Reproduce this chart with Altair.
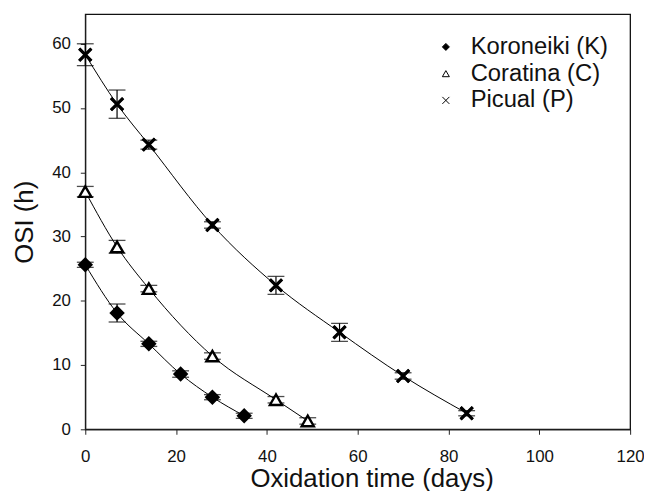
import altair as alt
import pandas as pd

series_names = ["Koroneiki (K)", "Coratina (C)", "Picual (P)"]

days_K = [0, 7, 14, 21, 28, 35]
osi_K = [25.6, 18.1, 13.3, 8.6, 5.0, 2.1]
err_K = [0.4, 1.4, 0.4, 0.5, 0.4, 0.4]

days_C = [0, 7, 14, 28, 42, 49]
osi_C = [37.0, 28.4, 21.9, 11.4, 4.6, 1.3]
err_C = [0.8, 1.0, 0.5, 0.5, 0.5, 0.5]

days_P = [0, 7, 14, 28, 42, 56, 70, 84]
osi_P = [58.3, 50.6, 44.3, 31.8, 22.4, 15.1, 8.3, 2.5]
err_P = [1.7, 2.2, 0.7, 0.5, 1.4, 1.4, 0.5, 0.4]

x_ticks = [0, 20, 40, 60, 80, 100, 120]
y_ticks = [0, 10, 20, 30, 40, 50, 60]

rows = []
for name, d, o, e in zip(series_names, [days_K, days_C, days_P],
                         [osi_K, osi_C, osi_P], [err_K, err_C, err_P]):
    for xv, yv, ev in zip(d, o, e):
        rows.append(dict(series=name, day=xv, osi=yv, lo=yv - ev, hi=yv + ev))
df = pd.DataFrame(rows)

FONT = "Liberation Sans"
xpath = "M-1,-1L1,1M-1,1L1,-1"

x_enc = alt.X(
    "day:Q",
    scale=alt.Scale(domain=[0, 120], nice=False, zero=False),
    axis=alt.Axis(
        title="Oxidation time (days)", values=x_ticks, grid=False,
        labelFontSize=17, titleFontSize=26, labelFont=FONT, titleFont=FONT,
        titleFontWeight="normal", tickSize=5, labelPadding=14,
        titlePadding=2, labelFlush=False, titleX=289,
        domainColor="#222", tickColor="#222", labelColor="#111", titleColor="#111",
    ),
)
y_scale = alt.Scale(domain=[0, 64.6], nice=False, zero=False)
y_enc = alt.Y(
    "osi:Q",
    scale=y_scale,
    axis=alt.Axis(
        title="OSI (h)", values=y_ticks, grid=False,
        labelFontSize=17, titleFontSize=26, labelFont=FONT, titleFont=FONT,
        titleFontWeight="normal", tickSize=5, labelPadding=10,
        titlePadding=14, labelFlush=False,
        domainColor="#222", tickColor="#222", labelColor="#111", titleColor="#111",
    ),
)

base = alt.Chart(df)

lines = base.mark_line(color="black", strokeWidth=1, interpolate="monotone").encode(
    x=x_enc, y=y_enc, detail="series:N"
)

err_rules = base.mark_rule(color="black", strokeWidth=1.2).encode(
    x="day:Q", y=alt.Y("lo:Q", scale=y_scale), y2="hi:Q"
)
caps_lo = base.mark_tick(color="black", orient="horizontal", size=17, thickness=1.3).encode(
    x="day:Q", y=alt.Y("lo:Q", scale=y_scale)
)
caps_hi = base.mark_tick(color="black", orient="horizontal", size=17, thickness=1.3).encode(
    x="day:Q", y=alt.Y("hi:Q", scale=y_scale)
)

leg = alt.Legend(
    title=None, orient="none", legendX=352, legendY=21,
    labelFontSize=24, labelFont=FONT, labelColor="#111",
    symbolSize=50, symbolStrokeWidth=1,
    labelOffset=13, rowPadding=3,
)

points = base.mark_point(strokeWidth=2.4, opacity=1).encode(
    x="day:Q",
    y=alt.Y("osi:Q", scale=y_scale),
    shape=alt.Shape(
        "series:N",
        scale=alt.Scale(domain=series_names, range=["diamond", "triangle-up", xpath]),
        legend=leg,
    ),
    fill=alt.Fill(
        "series:N",
        scale=alt.Scale(domain=series_names, range=["black", "white", "transparent"]),
        legend=leg,
    ),
    stroke=alt.Stroke(
        "series:N",
        scale=alt.Scale(domain=series_names, range=["black", "black", "black"]),
        legend=leg,
    ),
    size=alt.value(150),
)

picual_bold = base.transform_filter(
    alt.datum.series == series_names[2]
).mark_point(strokeWidth=3.2, filled=False, color="black", opacity=1).encode(
    x="day:Q",
    y=alt.Y("osi:Q", scale=y_scale),
    shape=alt.value(xpath),
    size=alt.value(150),
)

chart = (
    alt.layer(lines, err_rules, caps_lo, caps_hi, points, picual_bold)
    .properties(
        width=550, height=419,
        autosize=alt.AutoSizeParams(type="none"),
        padding={"left": 78, "top": 4, "right": 14, "bottom": 60},
        background="white",
    )
    .configure_view(stroke="#111", strokeWidth=1.3)
)

chart.save("out.html", embed_options={"renderer": "svg", "actions": False})
